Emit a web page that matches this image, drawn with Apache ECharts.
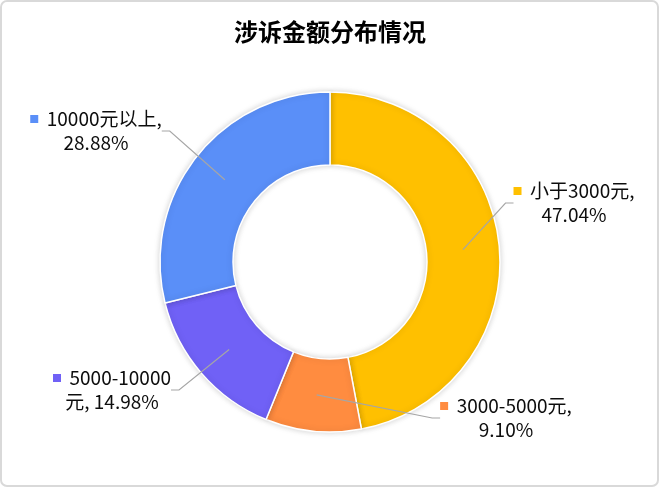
<!DOCTYPE html>
<html><head><meta charset="utf-8">
<script src="https://cdn.jsdelivr.net/npm/echarts@6/dist/echarts.min.js"></script>
<style>html,body{margin:0;padding:0;background:#fff}#c{width:660px;height:488px}</style>
</head><body><div id="c"></div>
<script>
const titleText = '涉诉金额分布情况';
const categories = ['小于3000元', '3000-5000元', '5000-10000元', '10000元以上'];
const values = [47.04, 9.10, 14.98, 28.88];
const colors = ['#FFC000', '#FF8C40', '#7061F6', '#5A8FF8'];
const labelTexts = ['小于3000元,\n47.04%', '3000-5000元,\n9.10%', '5000-10000\n元, 14.98%', '10000元以上,\n28.88%'];
const labelPos = [[574, 203], [506, 418], [112, 390], [96, 131]];

const data = categories.map((n, i) => ({ name: n, value: values[i], itemStyle: { color: colors[i] } }));
const chart = echarts.init(document.getElementById('c'), null, { renderer: 'canvas' });
const font = '"Noto Sans CJK SC", "Noto Sans", sans-serif';
chart.setOption({
  animation: false,
  graphic: [{ type: 'rect', shape: { x: 1, y: 1, width: 657, height: 485, r: 6 }, style: { fill: 'none', stroke: '#d9d9d9', lineWidth: 2 }, silent: true }],
  title: { text: titleText, left: 'center', top: 15, textStyle: { fontFamily: font, fontSize: 24, fontWeight: 'bold', color: '#000' } },
  series: [
    {
      type: 'pie', center: [330, 262], radius: [97, 170], startAngle: 90, clockwise: true,
      data: data, label: { show: false }, labelLine: { show: false },
      itemStyle: { borderColor: '#fff', borderWidth: 1.5, shadowBlur: 6, shadowColor: 'rgba(0,0,0,0.18)' },
      emphasis: { disabled: true }, z: 2
    },
    {
      type: 'pie', center: [330, 262], radius: [0, 133.5], startAngle: 90, clockwise: true, silent: true, z: 3,
      data: data.map((d, i) => ({
        name: d.name, value: d.value, itemStyle: { color: 'rgba(0,0,0,0)' },
        label: { formatter: '{sq|}  ' + labelTexts[i], rich: { sq: { width: 8, height: 8, backgroundColor: colors[i] } } }
      })),
      itemStyle: { borderWidth: 0 },
      label: {
        show: true, position: 'outside', fontFamily: font, fontSize: 19, color: '#0d0d0d', lineHeight: 24, align: 'center'
      },
      labelLine: { show: true, length: 10, length2: 8, lineStyle: { color: '#a6a6a6', width: 1.2 } },
      labelLayout: function (p) {
        const i = p.dataIndex;
        return { x: labelPos[i][0], y: labelPos[i][1], align: 'center', verticalAlign: 'middle' };
      },
      emphasis: { disabled: true }
    }
  ]
});
</script></body></html>
